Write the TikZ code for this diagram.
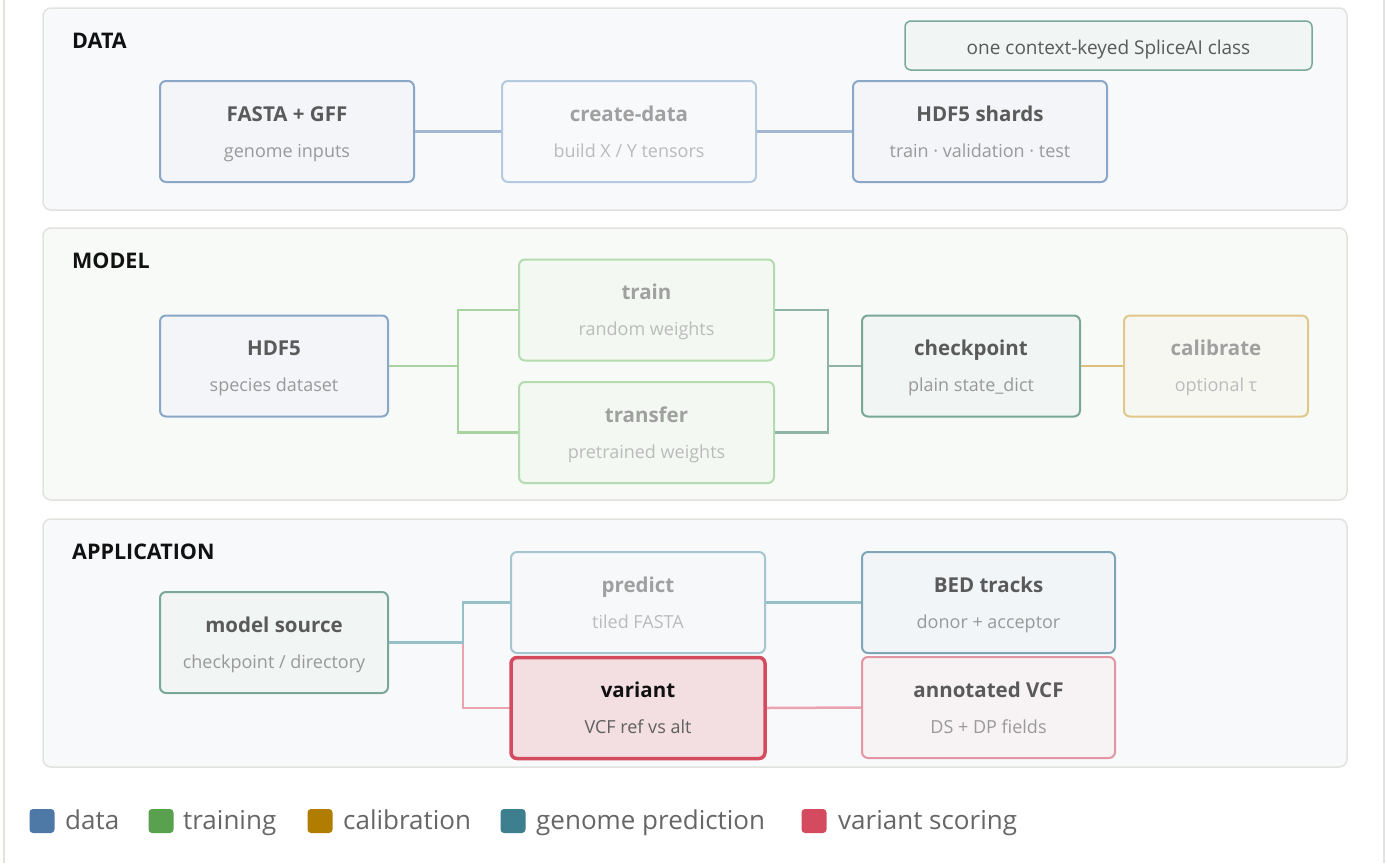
\documentclass[tikz,border=0pt]{standalone}
\usepackage{fontspec}
\setmainfont{Open Sans}
\setsansfont{Open Sans}
\definecolor{panelborder}{HTML}{E2E2DF}
\definecolor{datafill}{HTML}{F8F9FB}
\definecolor{modelfill}{HTML}{F8FAF7}
\definecolor{appfill}{HTML}{F8F9FB}
\definecolor{ttl}{HTML}{111111}
\definecolor{tdark}{HTML}{5A5A5A}
\definecolor{tlight}{HTML}{999999}
\definecolor{tfade}{HTML}{A0A0A0}
\definecolor{sfade}{HTML}{BBBBBB}
\definecolor{vsub}{HTML}{5F5F5F}
\definecolor{blueB}{HTML}{8AA7C8}\definecolor{blueF}{HTML}{F3F5F8}
\definecolor{blueLB}{HTML}{B5C9DF}\definecolor{blueLF}{HTML}{F7F9FB}
\definecolor{tealgB}{HTML}{7AA898}\definecolor{tealgF}{HTML}{F1F5F4}
\definecolor{greenB}{HTML}{B5DBB0}\definecolor{greenF}{HTML}{F3F8F2}
\definecolor{yelB}{HTML}{E0C78A}\definecolor{yelF}{HTML}{F7F7F2}
\definecolor{predB}{HTML}{A6C6CF}\definecolor{predF}{HTML}{F6F8FA}
\definecolor{bedB}{HTML}{7EA6B6}\definecolor{bedF}{HTML}{F1F5F8}
\definecolor{varB}{HTML}{D44A5E}\definecolor{varF}{HTML}{F3DFE2}
\definecolor{vcfB}{HTML}{E495A3}\definecolor{vcfF}{HTML}{F7F3F5}
\definecolor{cData}{HTML}{A3B8D3}
\definecolor{cGreen}{HTML}{A8D2A0}
\definecolor{cTealg}{HTML}{8FB3A6}
\definecolor{cYel}{HTML}{DCC17C}
\definecolor{cTeal}{HTML}{96BFC8}
\definecolor{cPink}{HTML}{EBA3B0}
\definecolor{lgData}{HTML}{4E79A7}
\definecolor{lgTrain}{HTML}{59A14F}
\definecolor{lgCal}{HTML}{B07D00}
\definecolor{lgGen}{HTML}{3D7F8E}
\definecolor{lgVar}{HTML}{D44A5E}
\definecolor{lgText}{HTML}{666666}
\tikzset{
  panel/.style={draw=panelborder, line width=1.5pt, rounded corners=8pt},
  sectitle/.style={anchor=west, font=\fontsize{21.5}{24}\selectfont\bfseries, text=ttl, inner sep=0pt, text height=15.4pt, text depth=0pt},
  bxbase/.style={rounded corners=6pt, line width=2pt, minimum height=101pt, inner sep=0pt},
  tbase/.style={font=\fontsize{20.5}{24}\selectfont\bfseries, inner sep=0pt, text height=14.6pt, text depth=0pt},
  sbase/.style={font=\fontsize{18}{21}\selectfont, inner sep=0pt, text height=9.6pt, text depth=0pt},
  blueN/.style={bxbase, draw=blueB, fill=blueF},
  blueNT/.style={tbase, text=tdark}, blueNS/.style={sbase, text=tlight},
  blueL/.style={bxbase, draw=blueLB, fill=blueLF},
  blueLT/.style={tbase, text=tfade}, blueLS/.style={sbase, text=sfade},
  greenN/.style={bxbase, draw=greenB, fill=greenF},
  greenNT/.style={tbase, text=tfade}, greenNS/.style={sbase, text=sfade},
  tealgN/.style={bxbase, draw=tealgB, fill=tealgF},
  tealgNT/.style={tbase, text=tdark}, tealgNS/.style={sbase, text=tlight},
  yelN/.style={bxbase, draw=yelB, fill=yelF},
  yelNT/.style={tbase, text=tfade}, yelNS/.style={sbase, text=sfade},
  predN/.style={bxbase, draw=predB, fill=predF},
  predNT/.style={tbase, text=tfade}, predNS/.style={sbase, text=sfade},
  bedN/.style={bxbase, draw=bedB, fill=bedF},
  bedNT/.style={tbase, text=tdark}, bedNS/.style={sbase, text=tlight},
  varN/.style={bxbase, draw=varB, fill=varF, line width=3.5pt},
  varNT/.style={tbase, text=ttl}, varNS/.style={sbase, text=vsub},
  vcfN/.style={bxbase, draw=vcfB, fill=vcfF},
  vcfNT/.style={tbase, text=tdark}, vcfNS/.style={sbase, text=tlight},
  conn/.style={line width=2.5pt},
  lgsq/.style={minimum width=25pt, minimum height=24pt, rounded corners=3.5pt, inner sep=0pt},
  lgtx/.style={anchor=west, font=\fontsize{26}{30}\selectfont, text=lgText, inner sep=0pt, text height=13.9pt, text depth=0pt},
}
\newcommand\bx[7]{%
  \node[#5, minimum width=#4] (#1) at (#2,#3) {};
  \node[#5T] (#1-t) at ([yshift=17.6pt]#1.center) {#6};
  \node[#5S] (#1-s) at ([yshift=-20.7pt]#1.center) {#7};
}
\begin{document}
\begin{tikzpicture}[x=1pt,y=-1pt]
\useasboundingbox (0,0) rectangle (1387,863);
\fill[white] (0,0) rectangle (1387,863);
\draw[panelborder, line width=1.5pt] (4,0) -- (4,863);
\draw[panelborder, line width=1.5pt] (1384,0) -- (1384,863);
% panels
\draw[panel, fill=datafill] (43,8) rectangle (1347,210);
\draw[panel, fill=modelfill] (43,228) rectangle (1347,500);
\draw[panel, fill=appfill] (43,519) rectangle (1347,767);
\node[sectitle] (tdata) at (72,40.3) {DATA};
\node[sectitle] (tmodel) at (72,261) {MODEL};
\node[sectitle] (tapp) at (72,551.5) {APPLICATION};
% DATA
\node[rounded corners=6pt, line width=1.5pt, draw=tealgB, fill=tealgF, minimum width=407pt, minimum height=49pt, inner sep=0pt] (ctx) at (1108.5,45.5) {};
\node[font=\fontsize{19}{22}\selectfont, text=tdark, inner sep=0pt, text height=13.6pt, text depth=0pt] (ctx-t) at (1108.5,48) {one context-keyed SpliceAI class};
\bx{fasta}{287}{131.5}{254pt}{blueN}{FASTA + GFF}{genome inputs}
\bx{create}{629}{131.5}{254pt}{blueL}{create-data}{build X / Y tensors}
\bx{shards}{980}{131.5}{254pt}{blueN}{HDF5 shards}{train · validation · test}
\draw[conn, cData] (fasta.east) -- (create.west);
\draw[conn, cData] (create.east) -- (shards.west);
% MODEL
\bx{hdf}{274}{366}{228pt}{blueN}{HDF5}{species dataset}
\bx{train}{646.5}{310}{255pt}{greenN}{train}{random weights}
\bx{transfer}{646.5}{432.5}{255pt}{greenN}{transfer}{pretrained weights}
\bx{ckpt}{971}{366}{218pt}{tealgN}{checkpoint}{plain state\_dict}
\bx{calib}{1216}{366}{184pt}{yelN}{calibrate}{optional τ}
\coordinate (j1) at (458,366);
\coordinate (j2) at (828,366);
\draw[conn, cGreen, line join=miter] (hdf.east) -- (j1) |- (train.west);
\draw[conn, cGreen, line join=miter] (j1) |- (transfer.west);
\draw[conn, cTealg, line join=miter] (train.east) -| (j2) -- (ckpt.west);
\draw[conn, cTealg, line join=miter] (transfer.east) -| (j2);
\draw[conn, cYel] (ckpt.east) -- (calib.west);
% APPLICATION
\bx{src}{274}{642.5}{228pt}{tealgN}{model source}{checkpoint / directory}
\bx{pred}{638}{602.5}{254pt}{predN}{predict}{tiled FASTA}
\bx{bed}{988.5}{602.5}{253pt}{bedN}{BED tracks}{donor + acceptor}
\bx{vcf}{988.5}{707.5}{253pt}{vcfN}{annotated VCF}{DS + DP fields}
\coordinate (j3) at (463,642.5);
\coordinate (vin) at (511,708);
\draw[conn, cPink, line join=miter] (j3) |- (vin);
\bx{var}{638}{708}{254pt}{varN}{variant}{VCF ref vs alt}
\draw[conn, cTeal, line join=miter] (src.east) -- (j3) |- (pred.west);
\draw[conn, cTeal] (pred.east) -- (bed.west);
\draw[conn, cPink] (var.east) -- (vcf.west);
% legend
\node[lgsq, fill=lgData] (l1) at (42,821) {};
\node[lgtx] (l1t) at (65,823) {data};
\node[lgsq, fill=lgTrain] (l2) at (161,821) {};
\node[lgtx] (l2t) at (183,823) {training};
\node[lgsq, fill=lgCal] (l3) at (320,821) {};
\node[lgtx] (l3t) at (343,823) {calibration};
\node[lgsq, fill=lgGen] (l4) at (513,821) {};
\node[lgtx] (l4t) at (536,823) {genome prediction};
\node[lgsq, fill=lgVar] (l5) at (814,821) {};
\node[lgtx] (l5t) at (838,823) {variant scoring};
\end{tikzpicture}
\end{document}
